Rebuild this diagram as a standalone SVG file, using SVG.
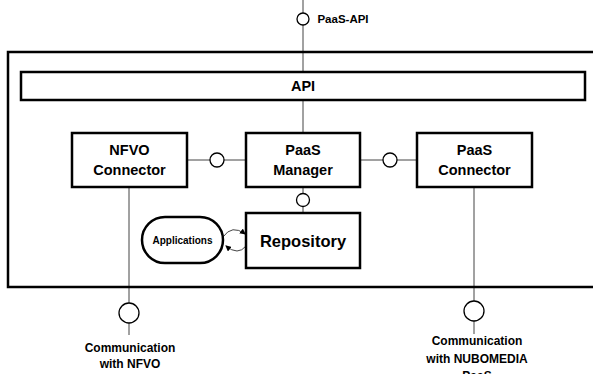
<svg xmlns="http://www.w3.org/2000/svg" width="593" height="374" viewBox="0 0 593 374">
<style>
text{font-family:"Liberation Sans",Arial,sans-serif;font-weight:bold;fill:#000;text-anchor:middle}
.box{fill:#fff;stroke:#000;stroke-width:2.5}
.frame{fill:none;stroke:#000;stroke-width:2.5}
.wire{stroke:#444;stroke-width:1;fill:none}
.iface{fill:#fff;stroke:#000;stroke-width:1.3}
.t{font-size:14.5px}
.s{font-size:12px}
</style>
<defs>
<marker id="ah" markerWidth="6" markerHeight="6" refX="5" refY="3" orient="auto" markerUnits="userSpaceOnUse">
<path d="M0,0 L6,3 L0,6 Z" fill="#000"/>
</marker>
</defs>
<rect x="0" y="0" width="593" height="374" fill="#fff"/>
<g id="connectors">
<line class="wire" x1="303" y1="0" x2="303" y2="72"/>
<line class="wire" x1="303" y1="100" x2="303" y2="133"/>
<line class="wire" x1="187" y1="160" x2="246" y2="160"/>
<line class="wire" x1="360" y1="160" x2="417" y2="160"/>
<line class="wire" x1="303" y1="187" x2="303" y2="213"/>
<line class="wire" x1="129" y1="187" x2="129" y2="335"/>
<line class="wire" x1="474" y1="187" x2="474" y2="334"/>
<path class="wire" d="M223,237 Q232,224 245,234" marker-end="url(#ah)" stroke="#000"/>
<path class="wire" d="M246,246 Q238,256 226,246" marker-end="url(#ah)" stroke="#000"/>
</g>
<g id="frame"><rect class="frame" x="8" y="52" width="600" height="235"/></g>
<g id="api"><rect class="box" x="21" y="72" width="564" height="28" stroke-width="2"/><text class="t" x="303" y="91">API</text></g>
<g id="paas-api"><circle class="iface" cx="303" cy="19" r="6"/><text x="343" y="23" style="font-size:11.5px">PaaS-API</text></g>
<g id="nfvo-connector"><rect class="box" x="72" y="133" width="115" height="54"/><text class="t" x="129.5" y="155">NFVO</text><text class="t" x="129.5" y="175">Connector</text></g>
<g id="paas-manager"><rect class="box" x="246" y="133" width="114" height="54"/><text class="t" x="303" y="155">PaaS</text><text class="t" x="303" y="175">Manager</text></g>
<g id="paas-connector"><rect class="box" x="417" y="133" width="115" height="54"/><text class="t" x="474.5" y="155">PaaS</text><text class="t" x="474.5" y="175">Connector</text></g>
<g id="repository"><rect class="box" x="246" y="213" width="114" height="55"/><text x="303" y="247" style="font-size:16.5px">Repository</text></g>
<g id="applications"><rect class="box" x="142" y="217" width="81" height="46" rx="23" stroke-width="1.5"/><text x="182.5" y="244" style="font-size:10px">Applications</text></g>
<g id="iface-nfvo-mgr"><circle class="iface" cx="217" cy="160" r="7"/></g>
<g id="iface-mgr-conn"><circle class="iface" cx="390" cy="160" r="7"/></g>
<g id="iface-mgr-repo"><circle class="iface" cx="303" cy="200" r="6.5"/></g>
<g id="comm-nfvo"><circle class="iface" cx="129" cy="313" r="10"/><text class="s" x="130" y="352">Communication</text><text class="s" x="130" y="368">with NFVO</text></g>
<g id="comm-nubomedia"><circle class="iface" cx="474" cy="311" r="10"/><text class="s" x="477" y="345">Communication</text><text class="s" x="477" y="363">with NUBOMEDIA</text><text class="s" x="477" y="380">PaaS</text></g>
</svg>
